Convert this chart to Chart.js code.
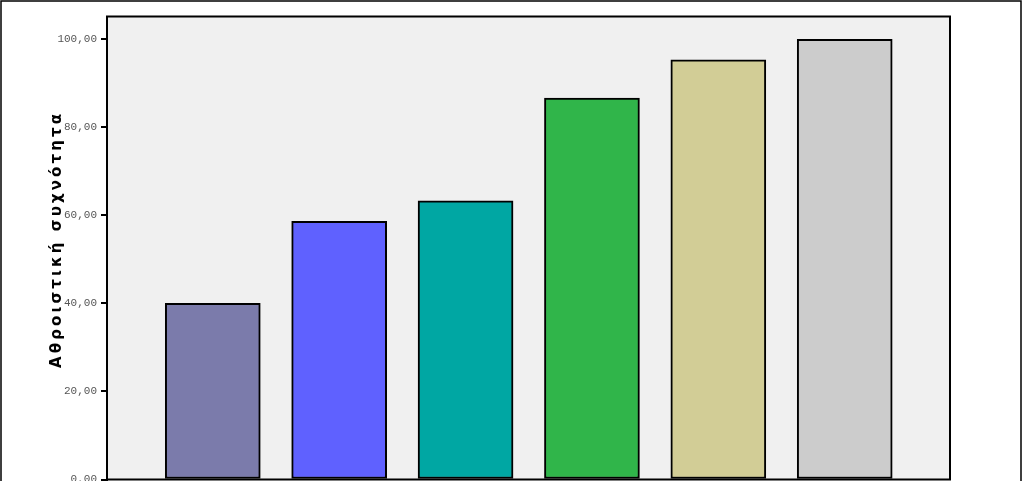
<!DOCTYPE html>
<html>
<head>
<meta charset="utf-8">
<script src="https://cdn.jsdelivr.net/npm/chart.js@4/dist/chart.umd.min.js"></script>
<style>
  html, body { margin: 0; padding: 0; background: #fff; overflow: hidden; }
  #wrap { position: relative; width: 1023px; height: 481px; overflow: hidden; }
  canvas { display: block; }
</style>
</head>
<body>
<div id="wrap"><canvas id="c" width="1023" height="530"></canvas></div>
<script>
// ---- data ----
const categories = ['1', '2', '3', '4', '5', '6'];
const values = [40.00, 58.67, 63.33, 86.67, 95.33, 100.00];
const barColors = ['#7B7BAB', '#5F61FF', '#00A7A3', '#30B54A', '#D2CD96', '#CCCCCC'];
const yTicks = [0, 20, 40, 60, 80, 100];
const yTitle = 'Αθροιστική συχνότητα';

const points = values.map((v, i) => ({ x: i + 1, y: v }));

const framePlugin = {
  id: 'frame',
  beforeDraw(chart) {
    const { ctx, chartArea: a } = chart;
    ctx.save();
    ctx.fillStyle = '#ffffff';
    ctx.fillRect(0, 0, chart.width, chart.height);
    ctx.fillStyle = '#F0F0F0';
    ctx.fillRect(a.left, a.top, a.right - a.left, a.bottom - a.top);
    ctx.restore();
  },
  afterDraw(chart) {
    const { ctx, chartArea: a } = chart;
    ctx.save();
    // plot border
    ctx.strokeStyle = '#000';
    ctx.lineWidth = 2;
    ctx.strokeRect(a.left, a.top, a.right - a.left, a.bottom - a.top);
    // outer border (left, top, right)
    ctx.lineWidth = 1.5;
    ctx.beginPath();
    ctx.moveTo(1, chart.height);
    ctx.lineTo(1, 1);
    ctx.lineTo(1021, 1);
    ctx.lineTo(1021, chart.height);
    ctx.stroke();
    // y axis title, letter-spaced, rotated
    ctx.font = 'bold 15px "DejaVu Sans", "Liberation Sans", sans-serif';
    ctx.fillStyle = '#000';
    const plain = ctx.measureText(yTitle).width;
    const n = [...yTitle].length;
    const targetLen = 254;
    const sp = Math.max(0, (targetLen - plain) / (n - 1));
    ctx.translate(57, 241);
    ctx.rotate(-Math.PI / 2);
    ctx.textBaseline = 'middle';
    let x = -targetLen / 2;
    for (const ch of yTitle) {
      ctx.fillText(ch, x, 0);
      x += ctx.measureText(ch).width + sp;
    }
    ctx.restore();
  }
};

new Chart(document.getElementById('c'), {
  type: 'bar',
  data: {
    labels: categories,
    datasets: [{
      data: points,
      backgroundColor: barColors,
      borderColor: '#000',
      borderWidth: 2,
      borderSkipped: false,
      barThickness: 95
    }]
  },
  options: {
    responsive: false,
    devicePixelRatio: 1,
    animation: false,
    layout: { padding: { left: 0, right: 73, top: 16.5, bottom: 50.5 } },
    plugins: { legend: { display: false }, tooltip: { enabled: false } },
    scales: {
      x: {
        type: 'linear',
        display: false,
        min: 0.163,
        max: 6.833,
        offset: false,
        ticks: { stepSize: 1 }
      },
      y: {
        min: 0,
        max: 105.2,
        afterFit(scale) { scale.width = 107; },
        afterBuildTicks(scale) { scale.ticks = yTicks.map(v => ({ value: v })); },
        ticks: {
          font: { family: '"Liberation Mono", "DejaVu Sans Mono", monospace', size: 11 },
          color: '#555',
          padding: 4,
          callback: v => v.toFixed(2).replace('.', ',')
        },
        grid: {
          drawOnChartArea: false,
          drawTicks: true,
          tickLength: 6,
          color: '#000',
          lineWidth: 2
        },
        border: { display: true, color: '#000', width: 2 }
      }
    }
  },
  plugins: [framePlugin]
});
</script>
</body>
</html>
